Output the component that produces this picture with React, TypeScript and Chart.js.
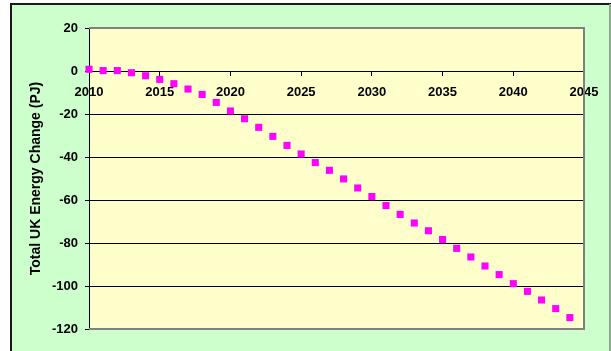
import React, { useEffect, useRef } from "react";
import { Chart, registerables } from "chart.js";

Chart.register(...registerables);

const years: number[] = [
  2010, 2011, 2012, 2013, 2014, 2015, 2016, 2017, 2018, 2019, 2020, 2021,
  2022, 2023, 2024, 2025, 2026, 2027, 2028, 2029, 2030, 2031, 2032, 2033,
  2034, 2035, 2036, 2037, 2038, 2039, 2040, 2041, 2042, 2043, 2044,
];

const energyChange: number[] = [
  0.8, 0.2, 0.2, -0.8, -2.2, -3.9, -5.9, -8.4, -10.9, -14.6, -18.6, -22.2,
  -26.2, -30.4, -34.6, -38.6, -42.6, -46.2, -50.2, -54.4, -58.4, -62.6, -66.7,
  -70.7, -74.3, -78.4, -82.5, -86.5, -90.7, -94.7, -98.9, -102.5, -106.5,
  -110.5, -114.7,
];

const yTicks = { min: -120, max: 20, step: 20 };
const xTicks = { min: 2010, max: 2045, step: 5 };
const yTitle = "Total UK Energy Change (PJ)";

const FONT = "Arial, 'Liberation Sans', Helvetica, sans-serif";

const framePlugin = {
  id: "frame",
  beforeDraw(chart: any) {
    const { ctx, width, height, chartArea } = chart;
    ctx.save();
    ctx.fillStyle = "#ffffff";
    ctx.fillRect(0, 0, width, height);
    ctx.fillStyle = "#CCFFCC";
    ctx.fillRect(11, 4, width - 11, height - 4);
    ctx.fillStyle = "#1a1a1a";
    ctx.fillRect(10, 3, 2, height - 3);
    ctx.fillRect(10, 3, width - 10, 2);
    ctx.fillStyle = "#8aaa8a";
    ctx.fillRect(609, 4, 2, height - 4);
    ctx.fillStyle = "#FFFFCC";
    ctx.fillRect(
      chartArea.left,
      chartArea.top,
      chartArea.right - chartArea.left,
      chartArea.bottom - chartArea.top
    );
    ctx.restore();
  },
  beforeDatasetsDraw(chart: any) {
    const { ctx, chartArea } = chart;
    ctx.save();
    ctx.strokeStyle = "#808080";
    ctx.lineWidth = 2;
    ctx.beginPath();
    ctx.moveTo(chartArea.left, chartArea.top);
    ctx.lineTo(chartArea.right, chartArea.top);
    ctx.lineTo(chartArea.right, chartArea.bottom);
    ctx.lineTo(chartArea.left, chartArea.bottom);
    ctx.stroke();
    ctx.restore();
  },
};

export default function App() {
  const ref = useRef<HTMLCanvasElement | null>(null);

  useEffect(() => {
    if (!ref.current) return;
    const chart = new Chart(ref.current, {
      type: "scatter",
      data: {
        datasets: [
          {
            label: "Energy change",
            data: years.map((x, i) => ({ x, y: energyChange[i] })),
            pointStyle: "rect",
            pointRadius: 5,
            pointBorderWidth: 0,
            backgroundColor: "#FF00FF",
            borderColor: "#FF00FF",
            showLine: false,
            clip: false as any,
          },
        ],
      },
      plugins: [framePlugin],
      options: {
        animation: false,
        responsive: false,
        devicePixelRatio: 1,
        layout: { padding: { left: 0, top: 28, right: 27, bottom: 22 } },
        plugins: {
          legend: { display: false },
          tooltip: { enabled: false },
        },
        scales: {
          x: {
            type: "linear",
            position: { y: 0 } as any,
            min: xTicks.min,
            max: xTicks.max,
            ticks: {
              stepSize: xTicks.step,
              autoSkip: false,
              maxRotation: 0,
              padding: 10,
              color: "#000",
              font: { family: FONT, size: 13, weight: "bold" },
              callback: (v: any) => String(v),
            },
            grid: {
              drawOnChartArea: false,
              drawTicks: true,
              tickLength: 4,
              tickColor: "#000",
              color: "#000",
            },
            border: { display: true, color: "#000", width: 1 },
          },
          y: {
            type: "linear",
            min: yTicks.min,
            max: yTicks.max,
            afterFit: (scale: any) => {
              scale.width = 89;
            },
            ticks: {
              stepSize: yTicks.step,
              padding: 7,
              color: "#000",
              font: { family: FONT, size: 13, weight: "bold" },
            },
            grid: {
              color: (ctx: any) =>
                ctx.tick && (ctx.tick.value === yTicks.max || ctx.tick.value === yTicks.min)
                  ? "rgba(0,0,0,0)"
                  : "#000",
              tickColor: "#000",
              tickLength: 4,
              lineWidth: 1,
            },
            border: { display: true, color: "#000", width: 1 },
            title: {
              display: true,
              text: yTitle,
              color: "#000",
              font: { family: FONT, size: 14, weight: "bold" },
              padding: { top: 28, bottom: 0 },
            },
          },
        },
      },
    });
    return () => chart.destroy();
  }, []);

  return (
    <div style={{ position: "absolute", left: 0, top: 0 }}>
      <canvas ref={ref} width={611} height={351} style={{ display: "block" }} />
    </div>
  );
}
